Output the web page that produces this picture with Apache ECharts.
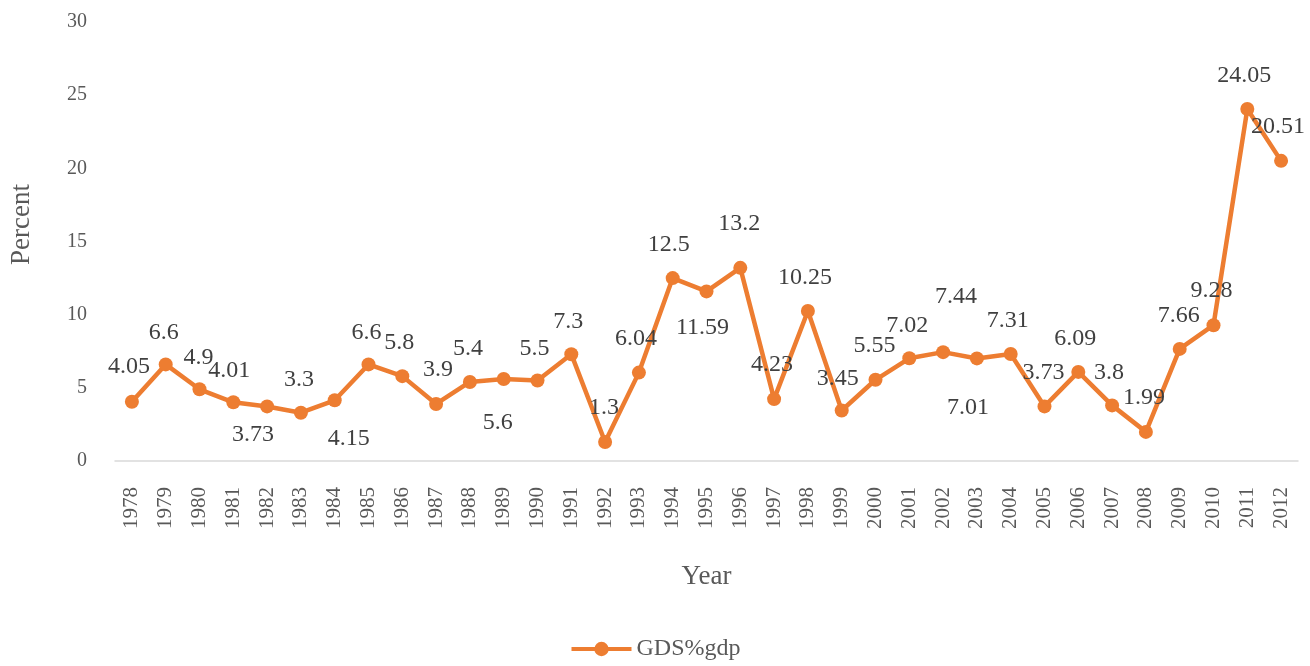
<!DOCTYPE html>
<html>
<head>
<meta charset="utf-8">
<script src="https://cdn.jsdelivr.net/npm/echarts@6/dist/echarts.min.js"></script>
<style>
  html, body { margin: 0; padding: 0; background: #fff; }
  #chart { width: 1310px; height: 666px; }
</style>
</head>
<body>
<div id="chart"></div>
<script>
const years = [
  '1978', '1979', '1980', '1981', '1982', '1983', '1984', '1985', '1986', '1987',
  '1988', '1989', '1990', '1991', '1992', '1993', '1994', '1995', '1996', '1997',
  '1998', '1999', '2000', '2001', '2002', '2003', '2004', '2005', '2006', '2007',
  '2008', '2009', '2010', '2011', '2012'
]
const gdsValues = [
  4.05, 6.6, 4.9, 4.01, 3.73, 3.3, 4.15, 6.6, 5.8, 3.9,
  5.4, 5.6, 5.5, 7.3, 1.3, 6.04, 12.5, 11.59, 13.2, 4.23,
  10.25, 3.45, 5.55, 7.02, 7.44, 7.01, 7.31, 3.73, 6.09, 3.8,
  1.99, 7.66, 9.28, 24.05, 20.51
]
const seriesName = 'GDS%gdp'
const yTicks = [0, 5, 10, 15, 20, 25, 30]

// label placement (style only): offset of each label centre from its point
const labelOffsets = [
  [-3, -35], [-2, -32], [-1, -32], [-4, -32], [-14, 28], [-2, -33], [14, 38],
  [-2, -32], [-3, -33], [2, -34], [-2, -33], [-6, 44], [-3, -32], [-3, -32],
  [-1, -34], [-3, -34], [-4, -33], [-4, 36], [-1, -44], [-2, -34], [-3, -33],
  [-4, -32], [-1, -34], [-2, -33], [13, -55], [-9, 49], [-3, -33], [-1, -34],
  [-3, -33], [-3, -33], [-2, -34], [-1, -33], [-2, -34], [-3, -33], [-3, -34]
]

const FONT = '"Liberation Serif", "Times New Roman", serif'
const orange = '#ED7D31'

const myChart = echarts.init(document.getElementById('chart'))
const points = gdsValues.map((v, i) => {
  return {
    value: v,
    label: { offset: labelOffsets[i] }
  }
})
const option = {
  backgroundColor: '#fff',
  animation: false,
  textStyle: { fontFamily: FONT },
  grid: {
    left: 113,
    right: 12,
    top: 22,
    bottom: 205
  },
  legend: {
    bottom: 0,
    left: 'center',
    itemWidth: 60,
    itemHeight: 18,
    itemGap: 6,
    lineStyle: { width: 4 },
    textStyle: {
      fontFamily: FONT,
      fontSize: 24,
      color: '#595959'
    },
    data: [seriesName]
  },
  xAxis: {
    type: 'category',
    boundaryGap: true,
    data: years,
    name: 'Year',
    nameLocation: 'middle',
    nameGap: 102,
    nameTextStyle: {
      fontFamily: FONT,
      fontSize: 27,
      color: '#595959'
    },
    axisLine: {
      show: true,
      lineStyle: { color: '#d9d9d9', width: 1.5 }
    },
    axisTick: { show: false },
    axisLabel: {
      rotate: 90,
      margin: 26,
      fontFamily: FONT,
      fontSize: 21,
      color: '#595959'
    },
    splitLine: { show: false }
  },
  yAxis: {
    type: 'value',
    min: yTicks[0],
    max: yTicks[yTicks.length - 1],
    interval: 5,
    name: 'Percent',
    nameLocation: 'middle',
    nameGap: 80,
    nameRotate: 90,
    nameTextStyle: {
      fontFamily: FONT,
      fontSize: 27,
      color: '#595959',
      padding: [0, 0, 0, 34]
    },
    axisLine: { show: false },
    axisTick: { show: false },
    axisLabel: {
      margin: 28,
      fontFamily: FONT,
      fontSize: 20,
      color: '#595959'
    },
    splitLine: { show: false }
  },
  series: [
    {
      name: seriesName,
      type: 'line',
      data: points,
      symbol: 'circle',
      symbolSize: 14,
      lineStyle: { color: orange, width: 4.5 },
      itemStyle: { color: orange },
      label: {
        show: true,
        position: 'inside',
        formatter: '{c}',
        fontFamily: FONT,
        fontSize: 24,
        color: '#404040'
      }
    }
  ]
}
myChart.setOption(option)
</script>
</body>
</html>
